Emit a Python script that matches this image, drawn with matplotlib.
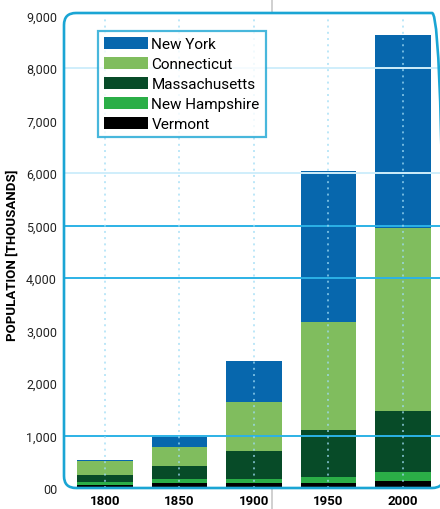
import numpy as np
import matplotlib
matplotlib.use("Agg")
import matplotlib.pyplot as plt
from matplotlib.patches import FancyBboxPatch
from matplotlib.lines import Line2D
from matplotlib.transforms import IdentityTransform

plt.rcParams['font.family'] = ['Roboto', 'DejaVu Sans']

# data (thousands)
years = ['1800', '1850', '1900', '1950', '2000']
vermont = [63, 90, 90, 90, 127]
new_hampshire = [51, 82, 82, 114, 184]
massachusetts = [127, 241, 540, 908, 1162]
connecticut = [267, 375, 927, 2051, 3480]
new_york = [32, 190, 781, 2876, 3676]

states = ['Vermont', 'New Hampshire', 'Massachusetts', 'Connecticut', 'New York']
colors = ['#000000', '#2bae47', '#074b28', '#80bd5e', '#0767ad']
series = [vermont, new_hampshire, massachusetts, connecticut, new_york]

ytick_vals = [0, 1000, 2000, 3000, 4000, 5000, 6000, 7000, 8000, 9000]
ytick_labels = ['00', '1,000', '2,000', '3,000', '4,000', '5,000',
                '6,000', '7,000', '8,000', '9,000']

W, H = 440, 510
fig = plt.figure(figsize=(W / 100, H / 100), dpi=100)

# axes placed in pixels: x 64..440, y(0)=489, y(9000)=16.5
ax = fig.add_axes([64 / W, (H - 489) / H, 376 / W, 472.5 / H])
x = np.arange(len(years))

bottom = np.zeros(len(years))
bars = []
for vals, col, name in zip(series, colors, states):
    b = ax.bar(x, vals, width=0.74, bottom=bottom, color=col, label=name,
               zorder=2, linewidth=0)
    bars.append(b)
    bottom += np.array(vals)

ax.set_xlim(-0.55, 4.497)
ax.set_ylim(0, 9000)

# grid lines (on top of the bars)
for v in [1000, 4000, 5000]:
    ax.axhline(v, color='#2cb2e6', lw=1.4, zorder=4)
for v in [6000, 8000]:
    ax.axhline(v, color='#cfeefb', lw=1.4, zorder=4)
for xi in x:
    ax.axvline(xi, color='#9fdcf5', lw=1.4, ls=(0, (1, 2.2)), alpha=0.7, zorder=4)

for s in ax.spines.values():
    s.set_visible(False)
ax.set_xticks(x)
ax.set_xticklabels(years, fontsize=9.5, fontweight='bold')
ax.set_yticks(ytick_vals)
ax.set_yticklabels(ytick_labels, fontsize=9, color='#222222')
ax.tick_params(axis='both', length=0)
ax.tick_params(axis='y', pad=5)
ax.tick_params(axis='x', pad=4)

# rounded cyan frame (drawn in pixel coordinates)
frame = FancyBboxPatch((64, H - 489), 380, 475,
                       boxstyle='round,pad=0,rounding_size=12',
                       transform=IdentityTransform(), fill=False,
                       edgecolor='#1aa5d4', lw=1.9, zorder=5)
fig.add_artist(frame)

# grey guide line outside the frame
fig.add_artist(Line2D([272 / W, 272 / W], [1 - 14 / H, 1.0],
                      transform=fig.transFigure, color='#c8c8c8', lw=1.2))
fig.add_artist(Line2D([272 / W, 272 / W], [0, (H - 490) / H],
                      transform=fig.transFigure, color='#c8c8c8', lw=1.2))

fig.text(12 / W, 1 - 255 / H, 'POPULATION [THOUSANDS]', rotation=90,
         ha='center', va='center', fontsize=9.5, fontweight='bold')

leg = ax.legend(bars[::-1], states[::-1], loc='upper left',
                bbox_to_anchor=(98 / W, 1 - 32 / H),
                bbox_transform=fig.transFigure, borderaxespad=0,
                fontsize=11, frameon=True, fancybox=False,
                handlelength=2.9, handleheight=0.85, handletextpad=0.2,
                labelspacing=0.36, borderpad=0.4)
leg.get_frame().set_edgecolor('#1aa5d4')
leg.get_frame().set_linewidth(1.6)
leg.set_zorder(6)

fig.savefig('out.png', dpi=100)
